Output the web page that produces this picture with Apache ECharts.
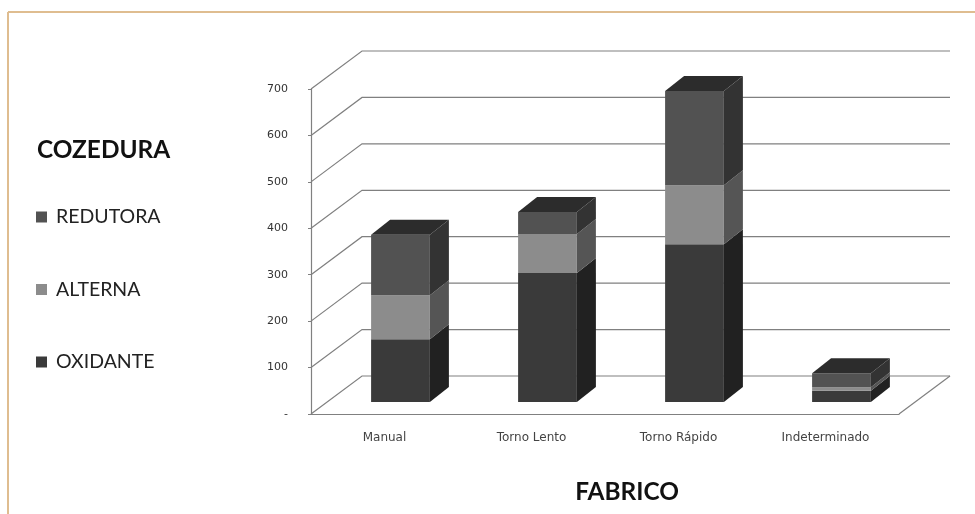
<!DOCTYPE html>
<html><head><meta charset="utf-8">
<style>html,body{margin:0;padding:0;background:#fff}#c{width:975px;height:514px;filter:blur(0.7px)}</style>
<script src="https://cdn.jsdelivr.net/npm/echarts@6/dist/echarts.min.js"></script>
</head><body><div id="c"></div>
<script>
const categories = ['Manual','Torno Lento','Torno Rápido','Indeterminado'];
const oxidante = [135,278,340,24];
const alterna  = [95,84,127,8];
const redutora = [130,47,203,30];
const yTicks = [0,100,200,300,400,500,600,700];

const chart = echarts.init(document.getElementById('c'),null,{renderer:'canvas'});
const WALL = {dx:51, dy:38};
const BAR = {ox:16, oy:12, dx:19, dy:15, w:0.4};
const AXIS = '#808080';

function wall(params, api){
  const cs = params.coordSys, y = api.coord([0, api.value(0)])[1];
  const left = cs.x, right = cs.x + cs.width, isFloor = api.value(0) === 0;
  const kids = [{type:'polyline',shape:{points:[[left,y],[left+WALL.dx,y-WALL.dy],[right+WALL.dx,y-WALL.dy]]},
    style:{stroke:AXIS,fill:null,lineWidth:1.2}}];
  if(isFloor) kids.push({type:'line',shape:{x1:right,y1:y,x2:right+WALL.dx,y2:y-WALL.dy},style:{stroke:AXIS,lineWidth:1.2}});
  return {type:'group',children:kids};
}
function shade(front, side, top){
  return function(params, api){
    const c = api.value(0), lo = api.coord([c, api.value(1)]), hi = api.coord([c, api.value(2)]);
    const w = api.size([1,0])[0]*BAR.w;
    const x0 = lo[0]-w/2+BAR.ox, x1 = x0+w, yb = lo[1]-BAR.oy, yt = hi[1]-BAR.oy;
    const kids = [
      {type:'polygon',shape:{points:[[x1,yb],[x1+BAR.dx,yb-BAR.dy],[x1+BAR.dx,yt-BAR.dy],[x1,yt]]},style:{fill:side}},
      {type:'rect',shape:{x:x0,y:yt,width:w,height:yb-yt},style:{fill:front}}
    ];
    if(top) kids.push({type:'polygon',shape:{points:[[x0,yt],[x0+BAR.dx,yt-BAR.dy],[x1+BAR.dx,yt-BAR.dy],[x1,yt]]},style:{fill:top}});
    return {type:'group',children:kids};
  };
}
function stack(values, below){
  return values.map((v,i)=>{const b = below.reduce((s,a)=>s+a[i],0); return [i,b,b+v];});
}
const enc = {x:0,y:[1,2]};
chart.setOption({
  animation:false,
  backgroundColor:'#fff',
  title:{text:'COZEDURA',left:37,top:138,padding:0,textStyle:{fontFamily:'Lato',fontWeight:'bold',fontSize:24.4,color:'#111'}},
  legend:{orient:'vertical',left:36,top:207,padding:0,itemWidth:11,itemHeight:11,itemGap:52.5,icon:'rect',selectedMode:false,
    data:['REDUTORA','ALTERNA','OXIDANTE'],
    textStyle:{fontFamily:'Lato',fontSize:19.5,color:'#222',padding:[0,0,0,4]}},
  grid:{left:311,top:89,width:588,height:325,containLabel:false},
  xAxis:{type:'category',data:categories,
    axisLine:{lineStyle:{color:AXIS,width:1.2}},axisTick:{length:3,lineStyle:{color:AXIS}},
    axisLabel:{margin:18,fontFamily:'DejaVu Sans',fontSize:12,color:'#444'},
    name:'FABRICO',nameLocation:'middle',nameGap:66,
    nameTextStyle:{fontFamily:'Lato',fontWeight:'bold',fontSize:24.4,color:'#111',padding:[0,0,0,44]}},
  yAxis:{type:'value',min:0,max:700,interval:100,
    axisLine:{show:true,lineStyle:{color:AXIS,width:1.2}},axisTick:{show:true,length:3,lineStyle:{color:AXIS}},
    splitLine:{show:false},
    axisLabel:{margin:23,fontFamily:'DejaVu Sans',fontSize:11,color:'#333',formatter:v=>v===0?'-':String(v)}},
  graphic:[
    {type:'line',shape:{x1:8,y1:12,x2:975,y2:12},style:{stroke:'#dfbd90',lineWidth:2},silent:true},
    {type:'line',shape:{x1:8,y1:12,x2:8,y2:514},style:{stroke:'#dfbd90',lineWidth:2},silent:true}
  ],
  series:[
    {type:'custom',name:'wall',renderItem:wall,data:yTicks.map(v=>[v]),encode:{y:0},clip:false,silent:true,z:1},
    {type:'custom',name:'OXIDANTE',renderItem:shade('#3a3a3a','#212121',null),data:stack(oxidante,[]),encode:enc,itemStyle:{color:'#3a3a3a'},clip:false,z:2},
    {type:'custom',name:'ALTERNA',renderItem:shade('#8c8c8c','#555555',null),data:stack(alterna,[oxidante]),encode:enc,itemStyle:{color:'#8c8c8c'},clip:false,z:3},
    {type:'custom',name:'REDUTORA',renderItem:shade('#525252','#333333','#2c2c2c'),data:stack(redutora,[oxidante,alterna]),encode:enc,itemStyle:{color:'#525252'},clip:false,z:4}
  ]
});
</script></body></html>
